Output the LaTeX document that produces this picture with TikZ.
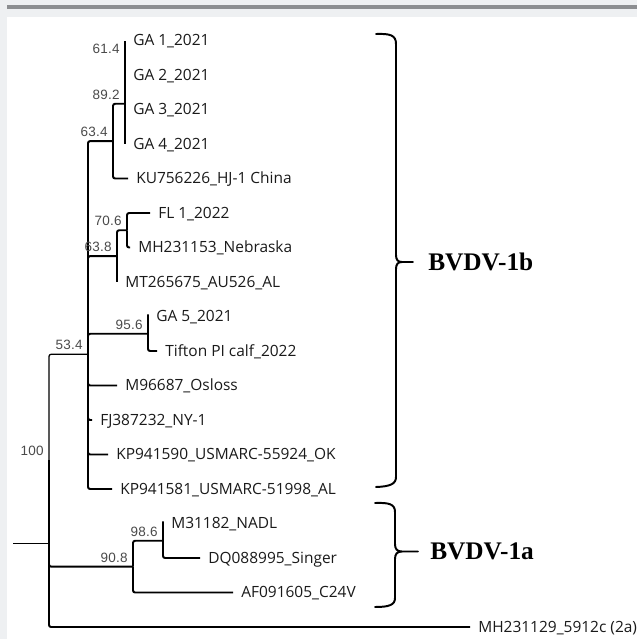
\documentclass[tikz,border=0pt]{standalone}
\usepackage{fontspec}
\setmainfont{Open Sans}
\newfontfamily\bootfont[LetterSpace=2]{Liberation Sans}
\newfontfamily\cladefont{Liberation Serif}
\usetikzlibrary{positioning}
\definecolor{Band}{HTML}{EEF0F2}
\definecolor{BandLine}{HTML}{8C8E91}
\definecolor{Ink}{HTML}{1A1A1A}
\definecolor{Boot}{HTML}{4A4A4A}
\tikzset{
  branch/.style={draw=black,line width=1.4pt,rounded corners=1.5pt},
  thinbranch/.style={draw=black,line width=0.9pt,rounded corners=1.5pt},
  tip/.style={anchor=west,inner xsep=0.2cm,inner ysep=0pt,text height=7.8pt,text depth=0pt,font=\fontsize{11}{12}\selectfont,text=Ink},
  boot/.style={anchor=south east,inner sep=0pt,xshift=-0.125cm,yshift=0.1cm,font=\bootfont\fontsize{9.6}{10}\selectfont,text=Boot},
  bracket/.style={draw=black,line width=1.4pt,line cap=round},
  clade/.style={anchor=west,inner sep=0pt,text height=11.9pt,text depth=0pt,font=\cladefont\bfseries\fontsize{18}{20}\selectfont,text=black}
}
\begin{document}
\begin{tikzpicture}[x=0.025cm,y=-0.025cm]
  \useasboundingbox (0,0) rectangle (637,639);
  \fill[white] (0,0) rectangle (637,639);
  \fill[Band] (0,0) rectangle (637,17);
  \fill[Band] (0,0) rectangle (7,639);
  \fill[BandLine] (7,5) rectangle (637,8.5);

  \coordinate (stub) at (13,543.5);
  \coordinate (root) at (49,543.5);
  \coordinate (n100) at (49,460);
  \coordinate (n534) at (88,354.3);
  \coordinate (n634) at (113,141.1);
  \coordinate (n892) at (125,103.75);
  \coordinate (n614) at (125,57.75);
  \coordinate (n638) at (117,256.1);
  \coordinate (n706) at (127,230.25);
  \coordinate (n956) at (148,333.75);
  \coordinate (n908) at (133,566.6);
  \coordinate (n986) at (163,540.75);

  \node[tip] (ga1) at (125,40.5) {GA 1\_2021};
  \node[tip] (ga2) at (125,75) {GA 2\_2021};
  \node[tip] (ga3) at (125,109.5) {GA 3\_2021};
  \node[tip] (ga4) at (125,144) {GA 4\_2021};
  \node[tip] (ku) at (128,178.5) {KU756226\_HJ-1 China};
  \node[tip] (fl1) at (150,213) {FL 1\_2022};
  \node[tip] (nebr) at (130,247.5) {MH231153\_Nebraska};
  \node[tip] (au526) at (117,282) {MT265675\_AU526\_AL};
  \node[tip] (ga5) at (148,316.5) {GA 5\_2021};
  \node[tip] (tifton) at (157,351) {Tifton PI calf\_2022};
  \node[tip] (osloss) at (117,385.5) {M96687\_Osloss};
  \node[tip] (ny1) at (92,420) {FJ387232\_NY-1};
  \node[tip] (ok) at (108,454.5) {KP941590\_USMARC-55924\_OK};
  \node[tip] (al) at (112,489) {KP941581\_USMARC-51998\_AL};
  \node[tip] (nadl) at (163,523.5) {M31182\_NADL};
  \node[tip] (singer) at (200,558) {DQ088995\_Singer};
  \node[tip] (c24v) at (233,592.5) {AF091605\_C24V};
  \node[tip] (out2a) at (470,627) {MH231129\_5912c (2a)};

  \draw[branch] (stub) -- (root);
  \draw[branch] (root) -- (n100);
  \draw[branch] (root) |- (out2a.west);
  \draw[thinbranch] (n100) |- (n534);
  \draw[branch] (n100) |- (n908);
  \draw[branch] (n534) |- (n634);
  \draw[branch] (n534) |- (n638);
  \draw[branch] (n534) |- (n956);
  \draw[branch] (n534) |- (osloss.west);
  \draw[branch] (n534) |- (ny1.west);
  \draw[branch] (n534) |- (ok.west);
  \draw[branch] (n534) |- (al.west);
  \draw[branch] (n634) |- (n892);
  \draw[branch] (n634) |- (ku.west);
  \draw[branch] (n892) -- (n614);
  \draw[branch] (n892) -- (ga3.west);
  \draw[branch] (n892) -- (ga4.west);
  \draw[branch] (n614) -- (ga1.west);
  \draw[branch,line width=1.9pt] (n614) -- (ga2.west);
  \draw[branch] (n638) |- (n706);
  \draw[branch] (n638) |- (au526.west);
  \draw[branch] (n706) |- (fl1.west);
  \draw[branch] (n706) |- (nebr.west);
  \draw[branch] (n956) |- (ga5.west);
  \draw[branch] (n956) |- (tifton.west);
  \draw[branch] (n908) |- (n986);
  \draw[branch] (n908) |- (c24v.west);
  \draw[branch] (n986) |- (nadl.west);
  \draw[branch] (n986) |- (singer.west);

  \node[boot] (b614) at (n614) {61.4};
  \node[boot] (b892) at (n892) {89.2};
  \node[boot] (b634) at (n634) {63.4};
  \node[boot] (b706) at (n706) {70.6};
  \node[boot] (b638) at (n638) {63.8};
  \node[boot] (b956) at (n956) {95.6};
  \node[boot] (b534) at (n534) {53.4};
  \node[boot] (b100) at (n100) {100};
  \node[boot] (b986) at (n986) {98.6};
  \node[boot] (b908) at (n908) {90.8};

  \coordinate (tip1b) at (413,262);
  \coordinate (tip1a) at (418,551.5);
  \draw[bracket] (376,34) .. controls (390,33.5) and (396,35) .. (396,44) -- (396,255)
    .. controls (396,260) and (398,262) .. (402,262) -- (tip1b)
    (402,262) .. controls (398,262) and (396,264) .. (396,269) -- (396,477)
    .. controls (396,484) and (390,486.5) .. (376,487);
  \draw[bracket] (375,503) .. controls (389,502.5) and (395,504) .. (395,512) -- (395,544)
    .. controls (395,549) and (397,551.5) .. (402,551.5) -- (tip1a)
    (402,551.5) .. controls (397,551.5) and (395,554) .. (395,559) -- (395,598)
    .. controls (395,605) and (389,607) .. (375,607);
  \node[clade,right=0.375cm of tip1b] (lab1b) {BVDV-1b};
  \node[clade,right=0.3cm of tip1a] (lab1a) {BVDV-1a};
\end{tikzpicture}
\end{document}
